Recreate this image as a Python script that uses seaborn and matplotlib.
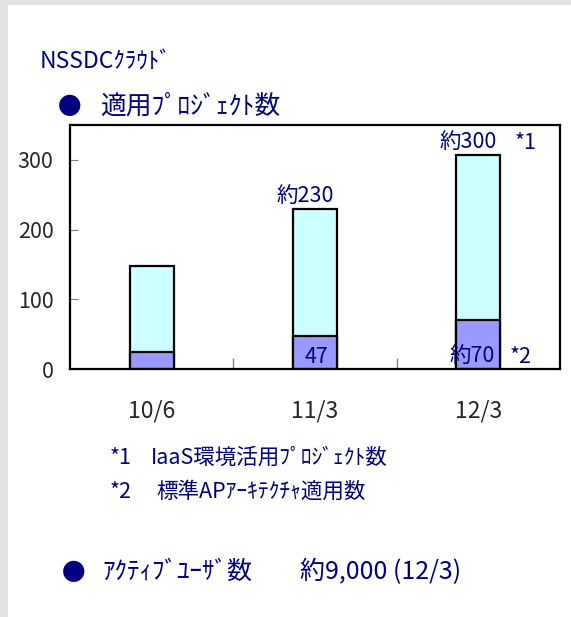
import matplotlib
matplotlib.use("Agg")
import matplotlib.pyplot as plt
import seaborn as sns
import pandas as pd
from matplotlib.patches import Rectangle

# data
periods = ["10/6", "11/3", "12/3"]
iaas_projects = [148, 230, 307]      # *1 IaaS環境活用プロジェクト数 (whole bar)
std_ap_projects = [24, 47, 70]       # *2 標準APアーキテクチャ適用数 (lower part)
top_labels = ["", "約230", "約300"]
bottom_labels = ["", "47", "約70"]

sns.set_style("white")
plt.rcParams["font.family"] = ["Noto Sans CJK JP", "DejaVu Sans"]

navy = "#000080"
W, H = 571, 617

df = pd.DataFrame({"period": periods, "total": iaas_projects, "std": std_ap_projects})

fig = plt.figure(figsize=(W / 100, H / 100), dpi=100)
fig.patch.set_facecolor("#e3e3e3")
fig.add_artist(Rectangle((8 / W, 0), 1, 1 - 5 / H, transform=fig.transFigure,
                         facecolor="white", edgecolor="none", zorder=-10))

ax = fig.add_axes([70 / W, 1 - 369 / H, 490 / W, 244 / H])

sns.barplot(data=df, x="period", y="total", color="#ccffff", saturation=1,
            edgecolor="black", linewidth=1.6, width=0.27, errorbar=None, ax=ax)
sns.barplot(data=df, x="period", y="std", color="#9999ff", saturation=1,
            edgecolor="black", linewidth=1.6, width=0.27, errorbar=None, ax=ax)

ax.set_xlim(-0.5, 2.5)
ax.set_ylim(0, 350)
ax.set_yticks([0, 100, 200, 300])
ax.set_xlabel("")
ax.set_ylabel("")
ax.set_xticks([0.5, 1.5], minor=True)
ax.tick_params(left=True, bottom=True, which="both")
ax.tick_params(axis="y", direction="in", length=6, color="gray", pad=12, labelsize=15.5)
ax.tick_params(axis="x", which="major", length=0, pad=22, labelsize=16.5)
ax.tick_params(axis="x", which="minor", direction="in", length=8, color="gray", width=1)
for sp in ax.spines.values():
    sp.set_color("black")
    sp.set_linewidth(1.6)

# value labels
for i, (lab, val) in enumerate(zip(top_labels, iaas_projects)):
    if lab:
        ax.text(i - 0.06, val + 1, lab, ha="center", va="bottom", color=navy, fontsize=15.5)
for i, lab in enumerate(bottom_labels):
    if lab:
        ax.text(i - 0.05 * (len(lab) > 2) + 0.01, 17, lab, ha="center", va="center",
                color=navy, fontsize=15.5)
ax.text(2.29, iaas_projects[2] + 1, "*1", ha="center", va="bottom", color=navy, fontsize=15.5)
ax.text(2.26, 17, "*2", ha="center", va="center", color=navy, fontsize=15.5)

# slide texts
def ftext(x, y, s, size, **kw):
    fig.text(x / W, 1 - y / H, s, fontsize=size, color=navy, va="center", **kw)

ftext(40, 61, "NSSDCｸﾗｳﾄﾞ", 16.5)
ftext(58, 108, "●", 17)
ftext(100, 107, "適用ﾌﾟﾛｼﾞｪｸﾄ数", 18.5)
ftext(110, 458, "*1", 15.5)
ftext(151, 458, "IaaS環境活用ﾌﾟﾛｼﾞｪｸﾄ数", 15.5)
ftext(110, 492, "*2", 15.5)
ftext(156, 492, "標準APｱｰｷﾃｸﾁｬ適用数", 15.5)
ftext(62, 573, "●", 17)
ftext(102, 572, "ｱｸﾃｨﾌﾞﾕｰｻﾞ数", 18)
ftext(300, 572, "約9,000 (12/3)", 18)

fig.savefig("out.png", dpi=100, facecolor=fig.get_facecolor())
